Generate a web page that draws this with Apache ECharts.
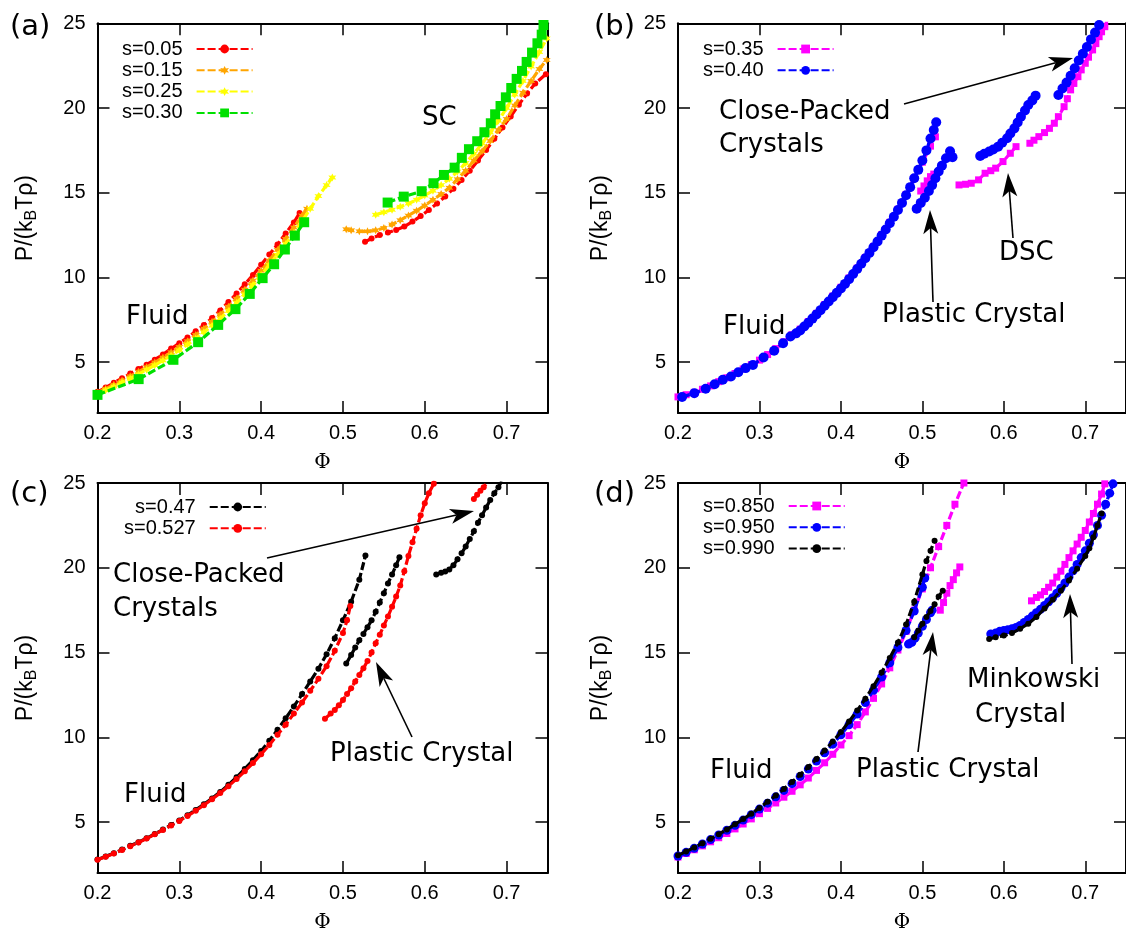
<!DOCTYPE html>
<html>
<head>
<meta charset="utf-8">
<script src="https://cdn.jsdelivr.net/npm/echarts@6/dist/echarts.min.js"></script>
<style>
  html, body { margin: 0; padding: 0; background: #fff; }
  #chart { width: 1126px; height: 934px; }
</style>
</head>
<body>
<div id="chart"></div>
<script>
// Equation of state P/(kB T rho) versus packing fraction phi for several shape parameters s.
const xTicks = [0.2, 0.3, 0.4, 0.5, 0.6, 0.7];
const yTicks = [5, 10, 15, 20, 25];

// ---------- (a) ----------
const a_s005_fluid = [[0.20,3.25],[0.21,3.5],[0.22,3.78],[0.23,4.05],[0.24,4.33],[0.25,4.6],[0.26,4.85],[0.27,5.15],[0.28,5.45],[0.29,5.8],[0.30,6.12],[0.31,6.45],[0.32,6.82],[0.33,7.2],[0.34,7.6],[0.35,8.05],[0.36,8.55],[0.37,9.05],[0.38,9.6],[0.39,10.15],[0.40,10.75],[0.41,11.35],[0.42,11.95],[0.43,12.6],[0.44,13.25],[0.447,13.8]];
const a_s005_sc = [[0.527,12.1],[0.535,12.3],[0.545,12.5],[0.555,12.65],[0.565,12.8],[0.575,13.0],[0.585,13.3],[0.595,13.62],[0.605,13.98],[0.615,14.36],[0.625,14.78],[0.635,15.24],[0.645,15.75],[0.655,16.3],[0.665,16.9],[0.675,17.52],[0.685,18.18],[0.695,18.85],[0.705,19.5],[0.715,20.2],[0.725,20.85],[0.735,21.45],[0.748,22.0]];
const a_s015_fluid = [[0.20,3.2],[0.21,3.43],[0.22,3.67],[0.23,3.92],[0.24,4.17],[0.25,4.43],[0.26,4.7],[0.27,4.98],[0.28,5.27],[0.29,5.58],[0.30,5.9],[0.31,6.24],[0.32,6.6],[0.33,6.98],[0.34,7.38],[0.35,7.81],[0.36,8.27],[0.37,8.75],[0.38,9.27],[0.39,9.82],[0.40,10.4],[0.41,11.0],[0.42,11.62],[0.43,12.27],[0.44,12.95],[0.45,13.65],[0.456,14.05]];
const a_s015_sc = [[0.504,12.85],[0.51,12.78],[0.52,12.72],[0.53,12.72],[0.54,12.78],[0.55,12.92],[0.56,13.12],[0.57,13.38],[0.58,13.65],[0.59,13.94],[0.60,14.25],[0.61,14.58],[0.62,14.92],[0.63,15.3],[0.64,15.8],[0.65,16.3],[0.66,16.9],[0.67,17.45],[0.68,18.05],[0.69,18.7],[0.70,19.35],[0.71,20.15],[0.72,20.9],[0.73,21.6],[0.74,22.3],[0.749,22.84]];
const a_s025_fluid = [[0.20,3.12],[0.21,3.34],[0.22,3.57],[0.23,3.8],[0.24,4.04],[0.25,4.29],[0.26,4.55],[0.27,4.82],[0.28,5.1],[0.29,5.4],[0.30,5.71],[0.31,6.04],[0.32,6.39],[0.33,6.76],[0.34,7.15],[0.35,7.57],[0.36,8.02],[0.37,8.5],[0.38,9.01],[0.39,9.56],[0.40,10.14],[0.41,10.73],[0.42,11.34],[0.43,11.97],[0.44,12.63],[0.45,13.32],[0.46,14.05],[0.47,14.8],[0.48,15.45],[0.487,15.9]];
const a_s025_sc = [[0.54,13.7],[0.55,13.85],[0.56,14.0],[0.57,14.17],[0.58,14.36],[0.59,14.58],[0.60,14.83],[0.61,15.12],[0.62,15.45],[0.63,15.82],[0.64,16.25],[0.65,16.75],[0.66,17.3],[0.67,17.9],[0.68,18.55],[0.69,19.25],[0.70,20.0],[0.71,20.8],[0.72,21.6],[0.73,22.45],[0.74,23.3],[0.749,24.1]];
const a_s030_fluid = [[0.2,3.07],[0.2503,4.0],[0.2928,5.14],[0.323,6.18],[0.3475,7.2],[0.3686,8.13],[0.3861,9.03],[0.4018,9.96],[0.4159,10.78],[0.429,11.65],[0.4412,12.47],[0.4526,13.26]];
const a_s030_sc = [[0.5546,14.42],[0.5743,14.77],[0.5962,15.09],[0.6107,15.56],[0.6234,16.05],[0.6365,16.48],[0.6453,17.06],[0.654,17.57],[0.6641,18.04],[0.6729,18.57],[0.6807,19.1],[0.686,19.63],[0.6926,20.12],[0.6991,20.63],[0.7057,21.18],[0.7123,21.72],[0.7188,22.19],[0.7245,22.72],[0.7311,23.27],[0.7377,23.82],[0.7429,24.33],[0.7451,24.9]];

// ---------- (b) ----------
const b_s035_fluid = [[0.20,2.95],[0.21,3.08],[0.22,3.22],[0.23,3.4],[0.24,3.6],[0.25,3.85],[0.26,4.08],[0.27,4.33],[0.28,4.6],[0.29,4.85],[0.30,5.12],[0.31,5.45],[0.32,5.8],[0.33,6.2],[0.34,6.62],[0.35,6.95],[0.36,7.4],[0.37,7.88],[0.38,8.4],[0.39,8.9],[0.40,9.42],[0.41,9.97],[0.42,10.55],[0.43,11.18],[0.44,11.83],[0.45,12.52],[0.46,13.25],[0.47,14.02],[0.48,14.9],[0.49,15.85],[0.50,16.8],[0.51,17.75],[0.516,18.3]];
const b_s035_pc = [[0.498,15.1],[0.502,15.4],[0.506,15.7],[0.51,15.95],[0.514,16.1]];
const b_s035_dsc = [[0.545,15.46],[0.553,15.5],[0.56,15.56],[0.569,15.76],[0.577,16.15],[0.584,16.3],[0.59,16.45],[0.599,16.84],[0.608,17.33],[0.615,17.72]];
const b_s035_cp = [[0.632,17.92],[0.637,18.1],[0.643,18.31],[0.65,18.55],[0.656,18.8],[0.662,19.1],[0.667,19.49],[0.674,20.08],[0.678,20.55],[0.682,21.07],[0.686,21.45],[0.691,21.85],[0.695,22.25],[0.70,22.64],[0.704,23.0],[0.709,23.43],[0.713,23.8],[0.717,24.21],[0.72,24.5],[0.724,24.8],[0.727,25.2]];
const b_s040_fluid = [[0.205,2.94],[0.22,3.17],[0.234,3.43],[0.245,3.7],[0.255,3.96],[0.265,4.15],[0.274,4.41],[0.283,4.65],[0.292,4.84],[0.305,5.28],[0.318,5.67],[0.329,6.12],[0.338,6.51],[0.345,6.7],[0.35,6.87],[0.355,7.1],[0.36,7.33],[0.365,7.57],[0.37,7.82],[0.375,8.07],[0.38,8.33],[0.385,8.58],[0.39,8.83],[0.395,9.09],[0.40,9.35],[0.405,9.62],[0.41,9.9],[0.415,10.2],[0.42,10.5],[0.425,10.81],[0.43,11.13],[0.435,11.45],[0.44,11.78],[0.445,12.12],[0.45,12.47],[0.455,12.83],[0.46,13.2],[0.465,13.58],[0.47,13.98],[0.475,14.4],[0.48,14.85],[0.485,15.33],[0.49,15.85],[0.495,16.35],[0.50,16.9],[0.505,17.5],[0.51,18.2],[0.514,18.7],[0.517,19.16]];
const b_s040_pc = [[0.493,14.05],[0.498,14.4],[0.503,14.7],[0.508,15.1],[0.512,15.45],[0.516,15.85],[0.52,16.25],[0.524,16.6],[0.529,17.04],[0.534,17.45],[0.537,17.1]];
const b_s040_dsc = [[0.571,17.17],[0.576,17.3],[0.582,17.43],[0.587,17.55],[0.593,17.72],[0.598,17.95],[0.604,18.22],[0.608,18.5],[0.613,18.8],[0.617,19.15],[0.621,19.49],[0.626,19.85],[0.63,20.18],[0.635,20.45],[0.639,20.73]];
const b_s040_cp = [[0.667,20.77],[0.672,21.15],[0.677,21.5],[0.682,21.9],[0.687,22.35],[0.692,22.8],[0.697,23.2],[0.702,23.6],[0.707,24.05],[0.712,24.45],[0.717,24.9]];

// ---------- (c) ----------
const c_s047_fluid = [[0.20,2.8],[0.21,2.98],[0.22,3.17],[0.23,3.38],[0.24,3.6],[0.25,3.82],[0.26,4.05],[0.27,4.3],[0.28,4.56],[0.29,4.83],[0.30,5.1],[0.31,5.4],[0.32,5.72],[0.33,6.05],[0.34,6.4],[0.35,6.78],[0.36,7.2],[0.37,7.65],[0.38,8.14],[0.39,8.65],[0.40,9.2],[0.41,9.8],[0.42,10.45],[0.43,11.12],[0.44,11.82],[0.45,12.55],[0.46,13.3],[0.47,14.05],[0.48,14.9],[0.49,15.85],[0.50,16.9],[0.51,18.0],[0.52,19.3],[0.5275,20.72]];
const c_s0527_fluid = [[0.20,2.78],[0.21,2.96],[0.22,3.15],[0.23,3.36],[0.24,3.58],[0.25,3.8],[0.26,4.03],[0.27,4.28],[0.28,4.54],[0.29,4.8],[0.30,5.07],[0.31,5.36],[0.32,5.67],[0.33,6.0],[0.34,6.35],[0.35,6.72],[0.36,7.12],[0.37,7.55],[0.38,8.0],[0.39,8.48],[0.40,9.0],[0.41,9.55],[0.42,10.15],[0.43,10.75],[0.44,11.4],[0.45,12.05],[0.46,12.75],[0.47,13.45],[0.48,14.2],[0.49,15.1],[0.50,16.15],[0.505,16.9],[0.509,17.75]];
const c_s047_pc = [[0.504,14.35],[0.51,14.85],[0.515,15.3],[0.52,15.72],[0.525,16.1],[0.53,16.5],[0.535,16.9],[0.54,17.4],[0.545,17.95],[0.55,18.5],[0.555,19.08],[0.56,19.6],[0.565,20.15],[0.569,20.62]];
const c_s0527_pc = [[0.478,11.1],[0.485,11.4],[0.49,11.62],[0.495,11.9],[0.50,12.2],[0.505,12.55],[0.51,12.9],[0.515,13.3],[0.52,13.68],[0.525,14.07],[0.53,14.5],[0.535,15.0],[0.54,15.55],[0.545,16.05],[0.55,16.6],[0.555,17.12],[0.56,17.7],[0.565,18.3],[0.57,18.95],[0.575,19.8],[0.58,20.7],[0.585,21.5],[0.59,22.3],[0.595,23.1],[0.60,23.8],[0.605,24.4],[0.611,24.95],[0.614,25.3]];
const c_s047_cp = [[0.614,19.6],[0.62,19.7],[0.625,19.78],[0.63,19.9],[0.635,20.15],[0.64,20.5],[0.645,20.85],[0.65,21.25],[0.655,21.7],[0.66,22.15],[0.665,22.65],[0.67,23.1],[0.675,23.55],[0.68,24.0],[0.685,24.4],[0.69,24.75],[0.694,25.1]];
const c_s0527_cp = [[0.66,24.06],[0.664,24.3],[0.668,24.55],[0.672,24.75],[0.677,25.05]];

// ---------- (d) ----------
const d_s085_fluid = [[0.20,2.94],[0.21,3.15],[0.22,3.37],[0.23,3.6],[0.24,3.84],[0.25,4.08],[0.26,4.33],[0.27,4.6],[0.28,4.89],[0.29,5.19],[0.30,5.5],[0.31,5.81],[0.32,6.13],[0.33,6.47],[0.34,6.82],[0.35,7.2],[0.36,7.6],[0.37,8.05],[0.38,8.5],[0.39,9.0],[0.40,9.55],[0.41,10.1],[0.42,10.75],[0.43,11.5],[0.44,12.3],[0.45,13.15],[0.46,14.1],[0.47,15.15],[0.48,16.25],[0.49,17.5],[0.50,18.75],[0.51,20.0],[0.52,21.25],[0.53,22.5],[0.54,23.75],[0.551,25.0]];
const d_s085_pc = [[0.522,17.5],[0.526,17.95],[0.53,18.5],[0.534,18.95],[0.538,19.3],[0.542,19.7],[0.546,20.05]];
const d_s085_mk = [[0.634,18.05],[0.64,18.25],[0.645,18.4],[0.65,18.6],[0.655,18.85],[0.66,19.1],[0.665,19.45],[0.67,19.8],[0.675,20.2],[0.68,20.6],[0.685,21.0],[0.69,21.4],[0.695,21.8],[0.70,22.2],[0.705,22.7],[0.71,23.2],[0.715,23.75],[0.72,24.35],[0.724,24.95]];
const d_s095_fluid = [[0.20,3.0],[0.21,3.22],[0.22,3.46],[0.23,3.71],[0.24,3.97],[0.25,4.24],[0.26,4.52],[0.27,4.81],[0.28,5.12],[0.29,5.44],[0.30,5.77],[0.31,6.12],[0.32,6.49],[0.33,6.87],[0.34,7.27],[0.35,7.69],[0.36,8.13],[0.37,8.6],[0.38,9.09],[0.39,9.6],[0.40,10.15],[0.41,10.74],[0.42,11.37],[0.43,12.05],[0.44,12.78],[0.45,13.56],[0.46,14.4],[0.47,15.3],[0.48,16.3],[0.49,17.45],[0.50,18.85],[0.503,19.4]];
const d_s095_pc = [[0.483,15.5],[0.487,15.6],[0.491,15.85],[0.495,16.15],[0.50,16.55],[0.505,16.95],[0.51,17.35],[0.512,17.5]];
const d_s095_mk = [[0.584,16.1],[0.59,16.15],[0.595,16.25],[0.60,16.3],[0.605,16.35],[0.61,16.4],[0.615,16.48],[0.62,16.6],[0.625,16.78],[0.63,16.95],[0.635,17.15],[0.64,17.35],[0.645,17.55],[0.65,17.78],[0.655,18.0],[0.66,18.23],[0.665,18.5],[0.67,18.8],[0.675,19.1],[0.68,19.45],[0.685,19.82],[0.69,20.2],[0.695,20.6],[0.70,21.0],[0.705,21.45],[0.71,21.95],[0.715,22.5],[0.72,23.1],[0.725,23.75],[0.73,24.4],[0.734,24.95]];
const d_s099_fluid = [[0.20,3.04],[0.21,3.27],[0.22,3.51],[0.23,3.76],[0.24,4.02],[0.25,4.29],[0.26,4.57],[0.27,4.87],[0.28,5.18],[0.29,5.5],[0.30,5.84],[0.31,6.2],[0.32,6.57],[0.33,6.96],[0.34,7.37],[0.35,7.8],[0.36,8.25],[0.37,8.72],[0.38,9.22],[0.39,9.75],[0.40,10.32],[0.41,10.93],[0.42,11.58],[0.43,12.28],[0.44,13.02],[0.45,13.82],[0.46,14.68],[0.47,15.6],[0.48,16.65],[0.49,18.0],[0.50,19.6],[0.505,20.4],[0.51,21.0],[0.515,21.6]];
const d_s099_pc = [[0.49,15.9],[0.495,16.3],[0.50,16.7],[0.505,17.1],[0.51,17.45],[0.515,17.85],[0.52,18.3],[0.525,18.65]];
const d_s099_mk = [[0.582,15.8],[0.59,15.9],[0.60,16.0],[0.61,16.15],[0.62,16.4],[0.63,16.7],[0.64,17.1],[0.65,17.6],[0.66,18.12],[0.67,18.65],[0.68,19.25],[0.69,19.95],[0.70,20.7],[0.705,21.15],[0.71,21.8],[0.715,22.5],[0.72,23.2]];

// ---------- styling helpers ----------
function starSymbol(points, inner) {
  let d = 'path://';
  for (let k = 0; k < points * 2; k++) {
    const ang = -Math.PI / 2 + k * Math.PI / points;
    const r = (k % 2) ? inner : 1;
    d += (k ? 'L' : 'M') + (50 + 50 * r * Math.cos(ang)).toFixed(2) + ',' + (50 + 50 * r * Math.sin(ang)).toFixed(2);
  }
  return d + 'Z';
}
const STAR = starSymbol(6, 0.5);

const FONT_SANS = 'Liberation Sans';
const FONT_NOTE = 'DejaVu Sans';

// panel -> list of curves; each curve has one legend name and several branches
const panels = [
  [
    { name: 's=0.05', color: '#ff0000', symbol: 'circle', size: 6, branches: [a_s005_fluid, a_s005_sc] },
    { name: 's=0.15', color: '#ffa500', symbol: STAR, size: 8, branches: [a_s015_fluid, a_s015_sc] },
    { name: 's=0.25', color: '#ffff00', symbol: STAR, size: 8, branches: [a_s025_fluid, a_s025_sc] },
    { name: 's=0.30', color: '#00e000', symbol: 'rect', size: 10, branches: [a_s030_fluid, a_s030_sc] }
  ],
  [
    { name: 's=0.35', color: '#ff00ff', symbol: 'rect', size: 7, branches: [b_s035_fluid, b_s035_pc, b_s035_dsc, b_s035_cp] },
    { name: 's=0.40', color: '#0000ff', symbol: 'circle', size: 10, branches: [b_s040_fluid, b_s040_pc, b_s040_dsc, b_s040_cp] }
  ],
  [
    { name: 's=0.47', color: '#000000', symbol: 'circle', size: 6, branches: [c_s047_fluid, c_s047_pc, c_s047_cp] },
    { name: 's=0.527', color: '#ff0000', symbol: 'circle', size: 6, branches: [c_s0527_fluid, c_s0527_pc, c_s0527_cp] }
  ],
  [
    { name: 's=0.850', color: '#ff00ff', symbol: 'rect', size: 7, branches: [d_s085_fluid, d_s085_pc, d_s085_mk] },
    { name: 's=0.950', color: '#0000ff', symbol: 'circle', size: 9, branches: [d_s095_fluid, d_s095_pc, d_s095_mk] },
    { name: 's=0.990', color: '#000000', symbol: 'circle', size: 6, branches: [d_s099_fluid, d_s099_pc, d_s099_mk] }
  ]
];

const gridBoxes = [
  { left: 97.5, top: 23.3, width: 450, height: 389.7 },
  { left: 678, top: 23.3, width: 450, height: 389.7 },
  { left: 97.5, top: 483, width: 450, height: 390 },
  { left: 678, top: 483, width: 450, height: 390 }
];
const yNameGap = [58, 63, 58, 63];
const legendPos = [
  { left: 122, top: 39 },
  { left: 703, top: 39 },
  { left: 124, top: 497 },
  { left: 703, top: 496 }
];

const frameLine = { show: true, onZero: false, lineStyle: { color: '#000', width: 2 } };
const innerTick = (vals) => ({ show: true, inside: true, length: 12, customValues: vals, lineStyle: { color: '#000', width: 1.5 } });

const xAxis = [], yAxis = [], series = [], legend = [];
gridBoxes.forEach((g, i) => {
  xAxis.push({
    gridIndex: i, type: 'value', min: 0.2, max: 0.75, position: 'bottom',
    name: 'Φ', nameLocation: 'middle', nameGap: 40,
    nameTextStyle: { fontFamily: 'DejaVu Serif', fontSize: 20, color: '#000' },
    axisLine: frameLine, axisTick: innerTick(xTicks), splitLine: { show: false },
    axisLabel: { customValues: xTicks, formatter: v => v.toFixed(1), margin: 10, fontFamily: FONT_SANS, fontSize: 20, color: '#000' }
  });
  xAxis.push({
    gridIndex: i, type: 'value', min: 0.2, max: 0.75, position: 'top',
    axisLine: frameLine, axisTick: innerTick(xTicks), axisLabel: { show: false }, splitLine: { show: false }
  });
  yAxis.push({
    gridIndex: i, type: 'value', min: 2, max: 25, position: 'left',
    name: '{t|P/(k}{s|B}{t|Tρ)}', nameLocation: 'middle', nameRotate: 90, nameGap: yNameGap[i],
    nameTextStyle: {
      color: '#000',
      rich: {
        t: { fontFamily: FONT_SANS, fontSize: 23, lineHeight: 28, color: '#000' },
        s: { fontFamily: FONT_SANS, fontSize: 16, lineHeight: 16, verticalAlign: 'bottom', color: '#000' }
      }
    },
    axisLine: frameLine, axisTick: innerTick(yTicks), splitLine: { show: false },
    axisLabel: { customValues: yTicks, margin: 12, fontFamily: FONT_SANS, fontSize: 20, color: '#000' }
  });
  yAxis.push({
    gridIndex: i, type: 'value', min: 2, max: 25, position: 'right',
    axisLine: frameLine, axisTick: innerTick(yTicks), axisLabel: { show: false }, splitLine: { show: false }
  });

  panels[i].forEach((c, ci) => {
    c.branches.forEach(br => {
      series.push({
        type: 'line', name: c.name, data: br,
        xAxisIndex: 2 * i, yAxisIndex: 2 * i,
        symbol: c.symbol, symbolSize: c.size, showSymbol: true,
        itemStyle: { color: c.color },
        lineStyle: { color: c.color, width: 3.2, type: [8, 3] },
        z: 2 + ci, animation: false, silent: true
      });
    });
  });

  legend.push({
    data: panels[i].map(c => c.name),
    orient: 'vertical', align: 'right',
    left: legendPos[i].left, top: legendPos[i].top,
    padding: 0, itemWidth: 56, itemHeight: 11, itemGap: 1.3,
    selectedMode: false,
    textStyle: { fontFamily: FONT_SANS, fontSize: 20, lineHeight: 20, color: '#000', padding: [0, 9, 0, 0] }
  });
});

// text notes and arrows (pixel layout)
const notes = [
  ['(a)', 10, 27, 29], ['(b)', 594, 27, 29], ['(c)', 10, 494, 29], ['(d)', 594, 494, 29],
  ['Fluid', 126, 317, 26], ['SC', 422, 118, 26],
  ['Close-Packed', 719, 112, 26], ['Crystals', 719, 145, 26], ['Fluid', 723, 327, 26],
  ['Plastic Crystal', 882, 315, 26], ['DSC', 999, 253, 26],
  ['Close-Packed', 113, 575, 26], ['Crystals', 113, 609, 26], ['Plastic Crystal', 330, 754, 26], ['Fluid', 124, 795, 26],
  ['Minkowski', 967, 680, 26], ['Crystal', 975, 715, 26], ['Plastic Crystal', 856, 770, 26], ['Fluid', 710, 771, 26]
];
const arrows = [
  [904, 104, 1073, 58], [933, 302, 930, 210], [1013, 238, 1008, 173],
  [267, 558, 474, 511], [412, 737, 376, 662],
  [1072, 664, 1070, 594], [918, 752, 933, 632]
];

const graphic = [];
notes.forEach(([t, x, y, fs]) => {
  graphic.push({
    type: 'text', x: x, y: y, z: 50,
    style: { text: t, fill: '#000', font: fs + 'px "' + FONT_NOTE + '"', textVerticalAlign: 'middle', verticalAlign: 'middle' }
  });
});
arrows.forEach(([x1, y1, x2, y2]) => {
  const dx = x2 - x1, dy = y2 - y1, len = Math.hypot(dx, dy);
  const ux = dx / len, uy = dy / len, nx = -uy, ny = ux;
  const L = 24, W = 7.5, notch = 18;
  graphic.push({
    type: 'line', z: 50,
    shape: { x1: x1, y1: y1, x2: x2 - ux * notch, y2: y2 - uy * notch },
    style: { stroke: '#000', lineWidth: 1.6 }
  });
  graphic.push({
    type: 'polygon', z: 50,
    shape: { points: [
      [x2, y2],
      [x2 - ux * L + nx * W, y2 - uy * L + ny * W],
      [x2 - ux * notch, y2 - uy * notch],
      [x2 - ux * L - nx * W, y2 - uy * L - ny * W]
    ] },
    style: { fill: '#000' }
  });
});

const chart = echarts.init(document.getElementById('chart'), null, { renderer: 'canvas' });
chart.setOption({
  backgroundColor: '#fff',
  animation: false,
  grid: gridBoxes.map(g => Object.assign({ containLabel: false }, g)),
  xAxis, yAxis, series, legend, graphic
});
</script>
</body>
</html>
